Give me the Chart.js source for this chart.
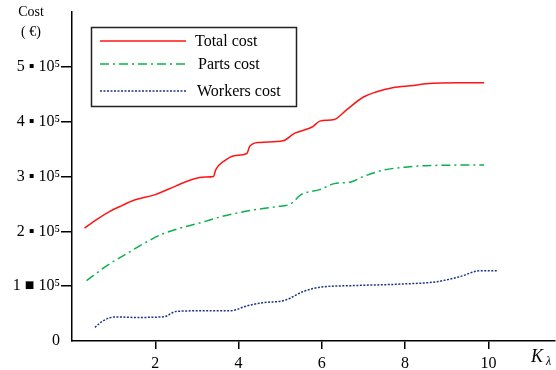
<!DOCTYPE html>
<html>
<head>
<meta charset="utf-8">
<script src="https://cdn.jsdelivr.net/npm/chart.js@4.4.1/dist/chart.umd.min.js"></script>
<style>
  html, body { margin: 0; padding: 0; background: #fff; }
  #wrap { width: 556px; height: 370px; }
</style>
</head>
<body>
<div id="wrap"><canvas id="cost-chart" width="556" height="370"></canvas></div>
<script>
'use strict';

// ─── data ──────────────────────────────────────────────────
const totalK    = [0.3, 0.6, 0.9, 1.2, 1.5, 2.0, 2.5, 2.9, 3.2, 3.4, 3.45, 3.65, 3.9, 4.2, 4.27, 4.5, 5.07, 5.35, 5.7, 5.8, 5.95, 6.3, 6.6, 7.0, 7.3, 7.7, 8.2, 8.5, 9.3, 9.9];
const totalCost = [206000, 222000, 236000, 247000, 257000, 267000, 283000, 295000, 299000, 300000, 312000, 328000, 338000, 342000, 355000, 362000, 365000, 379000, 388000, 392000, 401000, 404000, 422000, 445000, 454000, 462000, 466000, 469000, 471000, 471000];

const partsK    = [0.35, 0.85, 1.35, 1.8, 2.2, 2.7, 3.1, 3.6, 4.2, 4.9, 5.25, 5.5, 5.95, 6.3, 6.7, 7.0, 7.5, 8.0, 8.6, 9.9];
const partsCost = [110000, 138000, 161000, 181000, 196000, 208000, 216000, 227000, 237000, 245000, 250000, 267000, 276000, 287000, 290000, 300000, 312000, 317000, 320000, 321000];

const workK     = [0.55, 0.75, 1.05, 1.5, 2.2, 2.5, 3.0, 3.8, 4.2, 4.6, 5.1, 5.55, 5.95, 6.75, 7.95, 8.75, 9.3, 9.8, 10.2];
const workCost  = [25000, 37000, 44000, 43000, 44000, 54000, 55000, 55000, 64000, 70000, 74000, 90000, 98000, 101000, 104000, 108000, 117000, 128000, 128000];

const xTicks = [2, 4, 6, 8, 10];
const yTicks = [0, 100000, 200000, 300000, 400000, 500000];
const yTickLabels = ['0', '1 ■ 10⁵', '2 ▪ 10⁵', '3 ▪ 10⁵', '4 ▪ 10⁵', '5 ▪ 10⁵'];

const seriesNames = ['Total cost', 'Parts cost', 'Workers cost'];

// ─── styles ────────────────────────────────────────────────
const COLOR = { total: '#ff1414', parts: '#0bb04f', work: '#1c3483' };
const DASH  = { total: [], parts: [9, 4, 2, 4], work: [2, 1.5] };
const SERIF = '"Liberation Serif", "DejaVu Serif", serif';

function toPoints(xs, ys) {
  return xs.map((x, i) => ({ x, y: ys[i] }));
}

function lineSet(label, xs, ys, key) {
  return {
    label,
    data: toPoints(xs, ys),
    borderColor: COLOR[key],
    borderWidth: 1.5,
    borderDash: DASH[key],
    pointRadius: 0,
    fill: false,
    cubicInterpolationMode: 'monotone'
  };
}

// Cost / K_lambda captions and the boxed legend inside the plot
const decorPlugin = {
  id: 'decor',
  afterDraw(chart) {
    const c = chart.ctx;
    c.save();
    c.fillStyle = '#000';
    c.textBaseline = 'middle';

    // y caption
    c.textAlign = 'center';
    c.font = '14px ' + SERIF;
    c.fillText('Cost', 31, 12);
    c.fillText('( €)', 31, 32);

    // x caption
    c.textAlign = 'left';
    c.font = 'italic 18px ' + SERIF;
    c.fillText('K', 531, 357);
    c.font = 'italic 12px ' + SERIF;
    c.fillText('λ', 546, 362);

    // legend box
    c.strokeStyle = '#222';
    c.lineWidth = 1.5;
    c.strokeRect(91.5, 27.5, 205, 79);

    const keys = ['total', 'parts', 'work'];
    const rowY = [41, 64, 91];
    const textX = [195, 198, 197];
    keys.forEach((k, i) => {
      c.beginPath();
      c.strokeStyle = COLOR[k];
      c.lineWidth = 1.5;
      c.setLineDash(DASH[k]);
      c.moveTo(100, rowY[i]);
      c.lineTo(186, rowY[i]);
      c.stroke();
      c.setLineDash([]);
      c.fillStyle = '#000';
      c.font = '16px ' + SERIF;
      c.fillText(seriesNames[i], textX[i], rowY[i] + 1);
    });
    c.restore();
  }
};

new Chart(document.getElementById('cost-chart'), {
  type: 'line',
  data: {
    datasets: [
      lineSet(seriesNames[0], totalK, totalCost, 'total'),
      lineSet(seriesNames[1], partsK, partsCost, 'parts'),
      lineSet(seriesNames[2], workK, workCost, 'work')
    ]
  },
  options: {
    responsive: false,
    animation: false,
    layout: { padding: { top: 12, right: 1, left: 0, bottom: 0 } },
    plugins: {
      legend: { display: false },
      tooltip: { enabled: false }
    },
    scales: {
      x: {
        type: 'linear',
        min: 0,
        max: 11.6,
        afterBuildTicks: s => { s.ticks = xTicks.map(v => ({ value: v })); },
        afterFit: s => { s.height = 29; },
        border: { color: '#000', width: 1.5 },
        grid: { drawOnChartArea: false, drawTicks: true, tickLength: 8, color: '#000', lineWidth: 1.5 },
        ticks: {
          color: '#000',
          padding: 5,
          font: { family: SERIF, size: 16 },
          maxRotation: 0
        }
      },
      y: {
        min: 0,
        max: 600000,
        afterBuildTicks: s => { s.ticks = yTicks.map(v => ({ value: v })); },
        afterFit: s => { s.width = 72; },
        border: { color: '#000', width: 1.5 },
        grid: {
          drawOnChartArea: false,
          drawTicks: true,
          tickLength: 11,
          lineWidth: 1.5,
          color: ctx => (ctx.tick && ctx.tick.value === 0) ? 'rgba(0,0,0,0)' : '#000'
        },
        ticks: {
          color: '#000',
          padding: 1,
          font: { family: SERIF, size: 16 },
          callback: (v) => {
            const i = yTicks.indexOf(v);
            return i >= 0 ? yTickLabels[i] : '';
          }
        }
      }
    }
  },
  plugins: [decorPlugin]
});
</script>
</body>
</html>
